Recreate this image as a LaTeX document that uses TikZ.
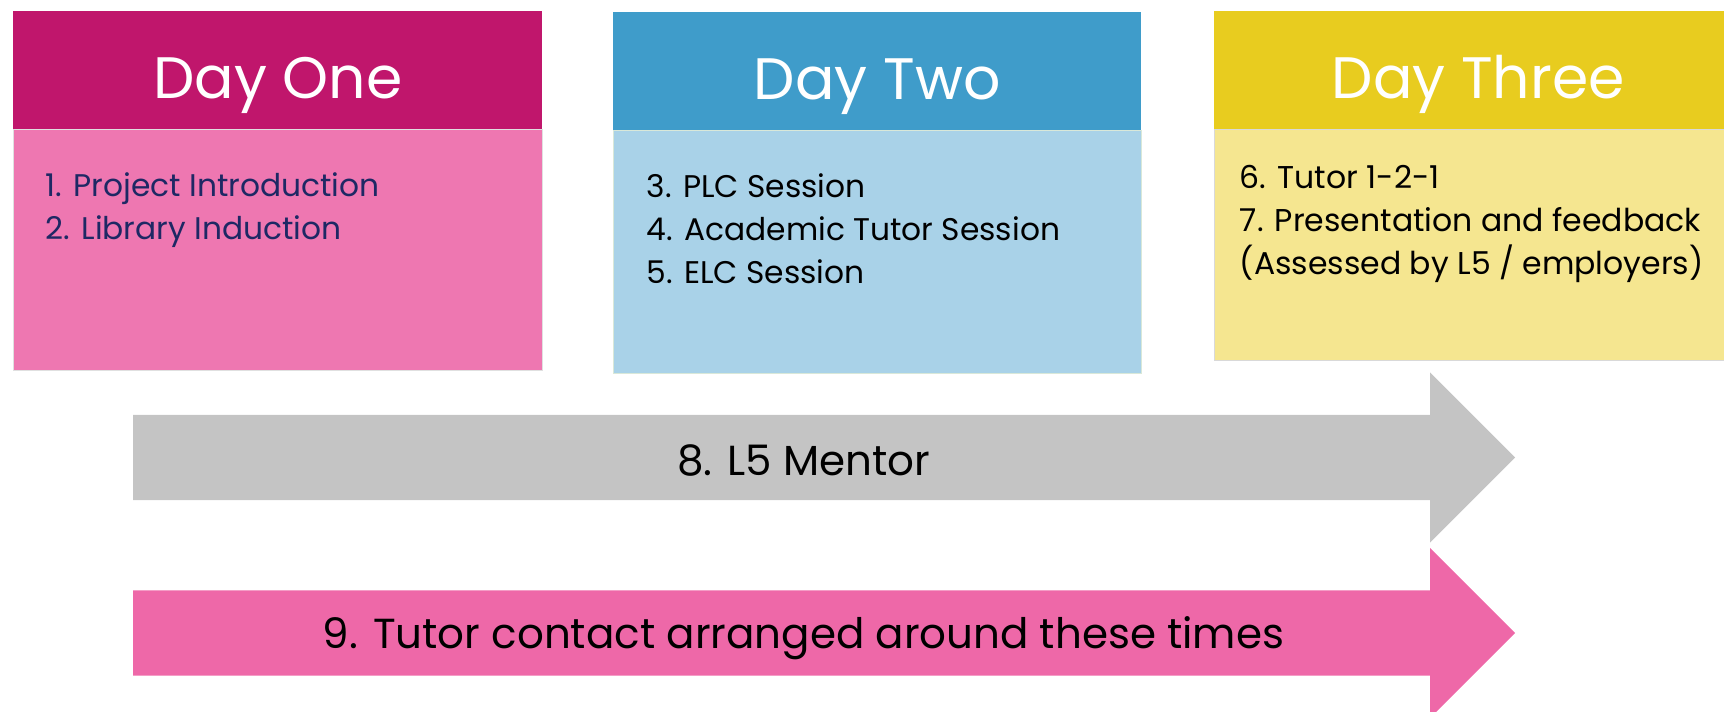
\documentclass[tikz,border=0pt]{standalone}
\usepackage{fontspec}
\setmainfont{Poppins}
\usetikzlibrary{positioning,shapes.arrows,calc}
\definecolor{onehead}{RGB}{192,22,108}
\definecolor{onebody}{RGB}{238,119,177}
\definecolor{onetext}{RGB}{30,40,100}
\definecolor{twohead}{RGB}{63,156,202}
\definecolor{twobody}{RGB}{169,210,232}
\definecolor{threehead}{RGB}{232,204,31}
\definecolor{threebody}{RGB}{245,230,144}
\definecolor{mentorgray}{RGB}{196,196,196}
\definecolor{tutorpink}{RGB}{238,104,168}
\tikzset{head/.style={rectangle,inner sep=0pt,minimum height=118pt,text height=56pt,text depth=0pt,text=white,font=\fontsize{58.5}{60}\selectfont}}
\tikzset{body/.style={rectangle,inner sep=0pt,line width=1pt}}
\tikzset{items/.style={align=left,inner sep=0pt,anchor=north west,font=\fontsize{31.3}{43}\selectfont}}
\tikzset{band/.style={single arrow,single arrow head extend=42.5pt,minimum width=170pt,minimum height=1382pt,inner xsep=0pt,inner ysep=42.5pt,anchor=tail}}
\tikzset{bandtext/.style={inner sep=0pt,anchor=base,font=\fontsize{42}{42}\selectfont}}

\begin{document}
\begin{tikzpicture}[x=1pt,y=-1pt]
    \path[use as bounding box,clip] (0,0) rectangle (1724,712);
    \node[head,fill=onehead,minimum width=529pt,anchor=north west] (onehead) at (13,11) {Day One};
    \node[body,fill=onebody,draw=black!12,minimum width=529pt,minimum height=241pt,below=0pt of onehead] (onebody) {};
        \node[items,text=onetext] (onelist) at ([xshift=33pt,yshift=-43pt]onebody.north west) {1. Project Introduction\\2. Library Induction};
    \node[head,fill=twohead,minimum width=528pt,anchor=north west] (twohead) at (613,12) {Day Two};
    \node[body,fill=twobody,draw=green!40!black!15,minimum width=528pt,minimum height=243pt,below=0pt of twohead] (twobody) {};
        \node[items] (twolist) at ([xshift=34pt,yshift=-43pt]twobody.north west) {3. PLC Session\\4. Academic Tutor Session\\5. ELC Session};
    \node[head,fill=threehead,minimum width=528pt,anchor=north west] (threehead) at (1214,11) {Day Three};
    \node[body,fill=threebody,draw=black!15,minimum width=528pt,minimum height=231pt,below=0pt of threehead] (threebody) {};
        \node[items,font=\fontsize{31.5}{43}\selectfont] (threelist) at ([xshift=26pt,yshift=-36pt]threebody.north west) {6. Tutor 1-2-1\\7. Presentation and feedback\\(Assessed by L5 / employers)};
    \node[band,fill=mentorgray] (mentor) at (133,457.5) {};
        \node[bandtext] (mentortext) at ([yshift=-17.5pt]$(mentor.tail)!0.485!(mentor.tip)$) {8. L5 Mentor};
    \node[band,fill=tutorpink] (tutor) at (133,633) {};
        \node[bandtext] (tutortext) at ([yshift=-15pt]$(tutor.tail)!0.485!(tutor.tip)$) {9. Tutor contact arranged around these times};
\end{tikzpicture}
\end{document}
